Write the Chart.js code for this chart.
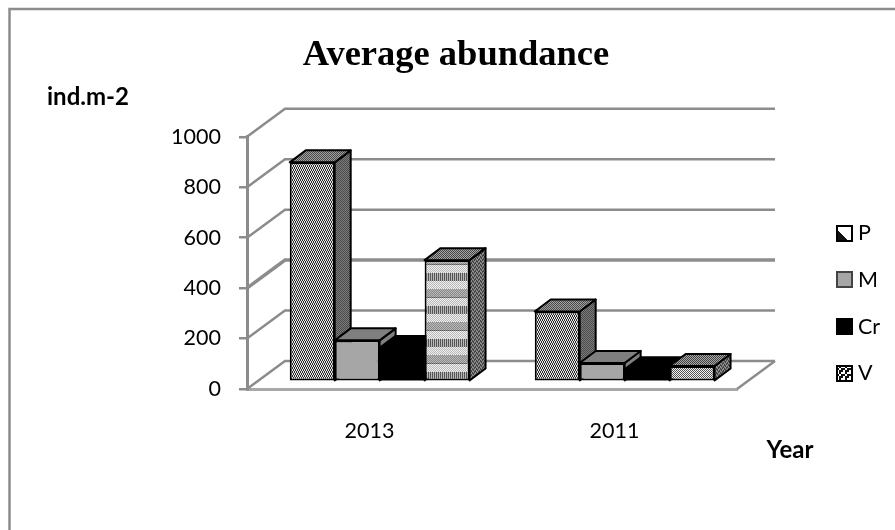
<!DOCTYPE html>
<html>
<head>
<meta charset="utf-8">
<title>Average abundance</title>
<script src="https://cdn.jsdelivr.net/npm/chart.js@4"></script>
<style>
  html, body { margin: 0; padding: 0; background: #fff; }
  canvas { display: block; }
</style>
</head>
<body>
<canvas id="abundanceChart" width="895" height="530"></canvas>
<script>
const YEARS = ['2013', '2011'];
const SERIES_NAMES = ['P', 'M', 'Cr', 'V'];
const P_VALUES = [870, 275];
const M_VALUES = [160, 70];
const CR_VALUES = [130, 45];
const V_VALUES = [480, 58];
const Y_TICKS = [0, 200, 400, 600, 800, 1000];

const GRID_COLOR = '#8c8c8c';
const FONT_SANS = 'Lato, "Noto Sans", sans-serif';
const DEPTH_X = 16, DEPTH_Y = 12;       // bar depth
const WALL_X = 38, WALL_Y = 28;         // offset of the back wall from the axis plane

// builds a repeating fill out of rows of palette indexes
function tile(rows, palette) {
  const c = document.createElement('canvas');
  c.width = rows[0].length;
  c.height = rows.length;
  const g = c.getContext('2d');
  rows.forEach((row, y) => {
    [...row].forEach((ch, x) => {
      g.fillStyle = palette[+ch];
      g.fillRect(x, y, 1, 1);
    });
  });
  return g.createPattern(c, 'repeat');
}

const WEAVE = ['0101', '1010', '1010', '0101'];
const CHECK = ['01', '10'];

// horizontal bands used on the V bars: light, striped, light, dark
function bandRows() {
  const rows = [];
  const add = (n, a, b) => { for (let i = 0; i < n; i++) rows.push(i % 2 ? b : a); };
  rows.push('2323');
  add(8, '0101', '1010');
  add(8, '2121', '2121');
  add(8, '0101', '1010');
  add(8, '3131', '1313');
  return rows;
}

const patterns = {
  pFront: tile(WEAVE, ['#2e2e2e', '#e8e8e8']),
  pSide: tile(CHECK, ['#4a4a4a', '#7c7c7c']),
  pTop: tile(CHECK, ['#4a4a4a', '#a0a0a0']),
  vFront: tile(bandRows(), ['#f0f0f0', '#b8b8b8', '#555555', '#8a8a8a']),
  vFrontLight: tile(CHECK, ['#555555', '#f0f0f0']),
  vSide: tile(['0101', '0011', '1010', '1100'], ['#444444', '#8c8c8c']),
  vTop: tile(CHECK, ['#444444', '#a6a6a6']),
  pKey: tile([
    '110000000000000',
    '100000000000000',
    '000000000000000',
    '000000000000000',
    '100000000000000',
    '110000000000000',
    '111000000000000',
    '111100000000000',
    '111110000000000',
    '111111000000000',
    '111111100000000',
    '111111110000000',
    '111111111000000',
    '111111111100000',
    '111111111110000'
  ], ['#ffffff', '#111111']),
  vKey: tile(['001100', '001100', '110011', '110011', '001111', '001111'], ['#ffffff', '#111111'])
};

const FRONT_FILLS = [patterns.pFront, '#a6a6a6', '#000000', [patterns.vFront, patterns.vFrontLight]];
const SIDE_FILLS = [patterns.pSide, '#7f7f7f', '#000000', patterns.vSide];
const TOP_FILLS = [patterns.pTop, '#7f7f7f', '#000000', patterns.vTop];
const KEY_FILLS = [patterns.pKey, '#a6a6a6', '#000000', patterns.vKey];
const KEY_BORDERS = ['#000000', '#444444', '#000000', '#000000'];
const BAR_BORDERS = [2, 2, 0, 2];       // Cr is solid black, a border only leaves a seam

function polygon(ctx, pts, fill) {
  ctx.beginPath();
  pts.forEach((p, i) => i ? ctx.lineTo(p[0], p[1]) : ctx.moveTo(p[0], p[1]));
  ctx.closePath();
  ctx.fillStyle = fill;
  ctx.fill();
  ctx.stroke();
}

// frame, back wall and floor behind the bars
const wallsPlugin = {
  id: 'walls',
  // the title sits a little right of the padded layout box
  afterLayout(chart) {
    chart.titleBlock.left += 6;
    chart.titleBlock.right += 6;
  },
  beforeDatasetsDraw(chart) {
    const { ctx, chartArea, scales } = chart;
    const y = scales.y;
    ctx.save();
    ctx.strokeStyle = GRID_COLOR;
    ctx.lineWidth = 2.5;
    ctx.beginPath();
    ctx.moveTo(9.5, 530);
    ctx.lineTo(9.5, 9);
    ctx.lineTo(895, 9);
    ctx.stroke();

    Y_TICKS.forEach((tick) => {
      const py = y.getPixelForValue(tick);
      ctx.lineWidth = tick === 400 ? 3.5 : 2.5;
      ctx.beginPath();
      ctx.moveTo(chartArea.left, py);
      ctx.lineTo(chartArea.left + WALL_X, py - WALL_Y);
      ctx.lineTo(chartArea.right + WALL_X, py - WALL_Y);
      ctx.stroke();
    });
    ctx.lineWidth = 2.5;
    ctx.beginPath();
    ctx.moveTo(chartArea.right, chartArea.bottom);
    ctx.lineTo(chartArea.right + WALL_X, chartArea.bottom - WALL_Y);
    ctx.stroke();
    ctx.restore();

    // side and top faces, left to right so nearer bars overlap
    ctx.save();
    ctx.strokeStyle = '#000';
    ctx.lineWidth = 2;
    ctx.lineJoin = 'round';
    chart.data.datasets.forEach((ds, s) => {
      chart.getDatasetMeta(s).data.forEach((bar) => {
        const { x, y: top, base, width } = bar.getProps(['x', 'y', 'base', 'width'], true);
        const r = x + width / 2, l = x - width / 2;
        polygon(ctx, [[r, top], [r + DEPTH_X, top - DEPTH_Y], [r + DEPTH_X, base - DEPTH_Y], [r, base]], SIDE_FILLS[s]);
        polygon(ctx, [[l, top], [l + DEPTH_X, top - DEPTH_Y], [r + DEPTH_X, top - DEPTH_Y], [r, top]], TOP_FILLS[s]);
      });
    });
    ctx.restore();
  },
  // legend and the two horizontal axis captions
  afterDraw(chart) {
    const { ctx } = chart;
    ctx.save();
    ctx.textBaseline = 'middle';
    ctx.fillStyle = '#000';
    ctx.font = 'bold 24px ' + FONT_SANS;
    ctx.textAlign = 'left';
    ctx.fillText('ind.m-2', 47, 97);
    ctx.textAlign = 'center';
    ctx.fillText('Year', 790, 450);

    ctx.textAlign = 'left';
    SERIES_NAMES.forEach((name, i) => {
      const py = 233 + i * 46.8;
      const top = Math.round(py - 7.5);
      ctx.save();
      ctx.translate(837, top);
      ctx.fillStyle = KEY_FILLS[i];
      ctx.fillRect(0, 0, 15, 15);
      ctx.strokeStyle = KEY_BORDERS[i];
      ctx.lineWidth = 2;
      ctx.strokeRect(0, 0, 15, 15);
      ctx.restore();
      ctx.fillStyle = '#000';
      ctx.font = '21.5px ' + FONT_SANS;
      ctx.fillText(name, 858, py);
    });
    ctx.restore();
  }
};

const seriesValues = [P_VALUES, M_VALUES, CR_VALUES, V_VALUES];

new Chart(document.getElementById('abundanceChart'), {
  type: 'bar',
  data: {
    datasets: SERIES_NAMES.map((name, s) => ({
      label: name,
      data: seriesValues[s].map((v, i) => ({ x: i, y: v })),
      backgroundColor: FRONT_FILLS[s],
      borderColor: '#000',
      borderWidth: BAR_BORDERS[s],
      borderSkipped: false,
      xAxisID: 'xBars',
      yAxisID: 'yBars',
      barPercentage: 1,
      categoryPercentage: 0.734
    }))
  },
  plugins: [wallsPlugin],
  options: {
    responsive: false,
    animation: false,
    layout: { padding: { left: 163, right: 158, top: 0, bottom: 0 } },
    plugins: {
      legend: { display: false },
      tooltip: { enabled: false },
      title: {
        display: true,
        text: 'Average abundance',
        color: '#000',
        font: { family: '"Liberation Serif", serif', size: 36.5, weight: 'bold' },
        padding: { top: 34, bottom: 59 }
      }
    },
    scales: {
      // axes shown on the front plane
      x: {
        type: 'category',
        labels: YEARS,
        offset: true,
        position: 'bottom',
        afterFit(scale) { scale.height = 141; },
        border: { display: true, color: '#a8a8a8', width: 3 },
        grid: { display: false },
        ticks: { color: '#000', padding: 21, font: { family: FONT_SANS, size: 21.5 }, maxRotation: 0 }
      },
      y: {
        type: 'linear',
        min: 0,
        max: 1000,
        position: 'left',
        afterFit(scale) { scale.width = 84; },
        afterBuildTicks(scale) { scale.ticks = Y_TICKS.map((value) => ({ value })); },
        border: { display: true, color: GRID_COLOR, width: 3 },
        grid: { drawOnChartArea: false, drawTicks: true, tickLength: 8, color: GRID_COLOR, lineWidth: 2.5 },
        ticks: { color: '#000', padding: 18, font: { family: FONT_SANS, size: 21.5 }, callback: (value) => String(value) }
      },
      // the bars stand mid-way into the floor, so they use shifted hidden axes
      xBars: {
        type: 'linear',
        axis: 'x',
        display: false,
        offset: false,
        min: -0.5414,
        max: 1.4586,
        grid: { display: false },
        afterBuildTicks(scale) { scale.ticks = [{ value: 0 }, { value: 1 }]; }
      },
      yBars: { type: 'linear', axis: 'y', display: false, min: -34, max: 972, grid: { display: false } }
    }
  }
});
</script>
</body>
</html>
